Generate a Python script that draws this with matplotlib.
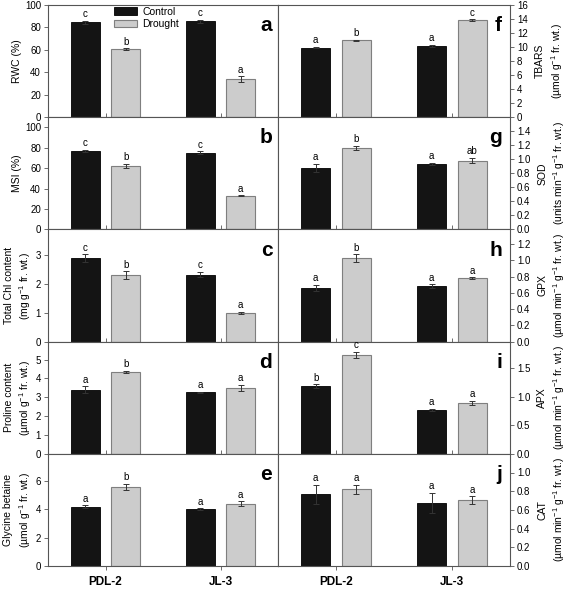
import numpy as np
import matplotlib
matplotlib.use("Agg")
import matplotlib.pyplot as plt

plt.rcParams["font.family"] = ["Liberation Sans", "DejaVu Sans"]
plt.rcParams["mathtext.fontset"] = "custom"
plt.rcParams["mathtext.rm"] = "Liberation Sans"

# ── data ─────────────────────────────────────────────────────────────────────
genotypes = ["PDL-2", "JL-3"]
series = ["Control", "Drought"]

# left column (a-e)
rwc_ctrl, rwc_dr = [84.5, 85.5], [60.5, 34.0]
rwc_ctrl_err, rwc_dr_err = [1.2, 1.2], [1.0, 2.5]
rwc_let = ["c", "b", "c", "a"]

msi_ctrl, msi_dr = [77.0, 75.0], [62.0, 33.0]
msi_ctrl_err, msi_dr_err = [1.0, 1.5], [2.0, 0.5]
msi_let = ["c", "b", "c", "a"]

chl_ctrl, chl_dr = [2.9, 2.33], [2.31, 1.0]
chl_ctrl_err, chl_dr_err = [0.13, 0.09], [0.13, 0.03]
chl_let = ["c", "b", "c", "a"]

pro_ctrl, pro_dr = [3.4, 3.26], [4.33, 3.5]
pro_ctrl_err, pro_dr_err = [0.17, 0.03], [0.07, 0.17]
pro_let = ["a", "b", "a", "a"]

gb_ctrl, gb_dr = [4.18, 4.02], [5.58, 4.4]
gb_ctrl_err, gb_dr_err = [0.1, 0.05], [0.2, 0.15]
gb_let = ["a", "b", "a", "a"]

# right column (f-j)
tb_ctrl, tb_dr = [9.9, 10.15], [10.95, 13.85]
tb_ctrl_err, tb_dr_err = [0.1, 0.2], [0.1, 0.1]
tb_let = ["a", "b", "a", "c"]

sod_ctrl, sod_dr = [0.87, 0.925], [1.155, 0.975]
sod_ctrl_err, sod_dr_err = [0.06, 0.015], [0.03, 0.04]
sod_let = ["a", "b", "a", "ab"]

gpx_ctrl, gpx_dr = [0.66, 0.68], [1.025, 0.78]
gpx_ctrl_err, gpx_dr_err = [0.04, 0.025], [0.05, 0.01]
gpx_let = ["a", "b", "a", "a"]

apx_ctrl, apx_dr = [1.19, 0.765], [1.74, 0.89]
apx_ctrl_err, apx_dr_err = [0.03, 0.02], [0.05, 0.04]
apx_let = ["b", "c", "a", "a"]

cat_ctrl, cat_dr = [0.765, 0.675], [0.82, 0.705]
cat_ctrl_err, cat_dr_err = [0.1, 0.11], [0.05, 0.04]
cat_let = ["a", "a", "a", "a"]

left_panels = [
    ("a", "RWC (%)", (0, 100), np.arange(0, 101, 20), "{:.0f}",
     rwc_ctrl, rwc_dr, rwc_ctrl_err, rwc_dr_err, rwc_let),
    ("b", "MSI (%)", (0, 110), np.arange(0, 101, 20), "{:.0f}",
     msi_ctrl, msi_dr, msi_ctrl_err, msi_dr_err, msi_let),
    ("c", "Total Chl content\n(mg g$^{-1}$ fr. wt.)", (0, 3.9), np.arange(0, 4), "{:.0f}",
     chl_ctrl, chl_dr, chl_ctrl_err, chl_dr_err, chl_let),
    ("d", "Proline content\n(\u00b5mol g$^{-1}$ fr. wt.)", (0, 5.95), np.arange(0, 6), "{:.0f}",
     pro_ctrl, pro_dr, pro_ctrl_err, pro_dr_err, pro_let),
    ("e", "Glycine betaine\n(\u00b5mol g$^{-1}$ fr. wt.)", (0, 7.9), np.arange(0, 7, 2), "{:.0f}",
     gb_ctrl, gb_dr, gb_ctrl_err, gb_dr_err, gb_let),
]
right_panels = [
    ("f", "TBARS\n(\u00b5mol g$^{-1}$ fr. wt.)", (0, 16), np.arange(0, 17, 2), "{:.0f}",
     tb_ctrl, tb_dr, tb_ctrl_err, tb_dr_err, tb_let),
    ("g", "SOD\n(units min$^{-1}$ g$^{-1}$ fr. wt.)", (0, 1.59), np.arange(0, 1.41, 0.2), "{:.1f}",
     sod_ctrl, sod_dr, sod_ctrl_err, sod_dr_err, sod_let),
    ("h", "GPX\n(\u00b5mol min$^{-1}$ g$^{-1}$ fr. wt.)", (0, 1.38), np.arange(0, 1.21, 0.2), "{:.1f}",
     gpx_ctrl, gpx_dr, gpx_ctrl_err, gpx_dr_err, gpx_let),
    ("i", "APX\n(\u00b5mol min$^{-1}$ g$^{-1}$ fr. wt.)", (0, 1.97), np.arange(0, 1.6, 0.5), "{:.1f}",
     apx_ctrl, apx_dr, apx_ctrl_err, apx_dr_err, apx_let),
    ("j", "CAT\n(\u00b5mol min$^{-1}$ g$^{-1}$ fr. wt.)", (0, 1.2), np.arange(0, 1.01, 0.2), "{:.1f}",
     cat_ctrl, cat_dr, cat_ctrl_err, cat_dr_err, cat_let),
]

# ── layout ───────────────────────────────────────────────────────────────────
W, H = 567, 589
fig = plt.figure(figsize=(W / 100, H / 100), dpi=100)

row_top, row_h = 5, 112.2
col_x = [(48, 230), (278, 232)]

C_CTRL = "#141414"
C_DR = "#cccccc"
EDGE_DR = "#7f7f7f"
SPINE = "#555555"

x = np.array([0.5, 1.5])
off, bw = 0.175, 0.25


def draw_panel(ax, panel, side, bottom):
    letter, ylabel, ylim, yticks, fmt, c, d, ce, de, lets = panel
    b1 = ax.bar(x - off, c, bw, color=C_CTRL, edgecolor="#000000", linewidth=0.6,
                label=series[0], zorder=2)
    b2 = ax.bar(x + off, d, bw, color=C_DR, edgecolor=EDGE_DR, linewidth=0.8,
                label=series[1], zorder=2)
    ax.errorbar(x - off, c, yerr=ce, fmt="none", ecolor="#333333", elinewidth=0.7,
                capsize=2.2, capthick=0.7, zorder=3)
    ax.errorbar(x + off, d, yerr=de, fmt="none", ecolor="#333333", elinewidth=0.7,
                capsize=2.2, capthick=0.7, zorder=3)
    span = ylim[1] - ylim[0]
    tops = [c[0] + ce[0], d[0] + de[0], c[1] + ce[1], d[1] + de[1]]
    xs = [x[0] - off, x[0] + off, x[1] - off, x[1] + off]
    for xi, t, l in zip(xs, tops, lets):
        ax.text(xi, t + span * 0.015, l, ha="center", va="bottom", fontsize=7)

    ax.set_xlim(0, 2)
    ax.set_ylim(*ylim)
    ax.set_yticks(yticks)
    ax.set_yticklabels([fmt.format(v) for v in yticks])
    ax.set_xticks(x)
    if bottom:
        ax.set_xticklabels(genotypes, fontsize=8.5, fontweight="bold")
        ax.tick_params(axis="x", direction="out", length=3, width=0.6, color=SPINE, pad=4.5)
    else:
        ax.set_xticklabels([])
        ax.tick_params(axis="x", direction="in", length=3, width=0.6, color=SPINE)
    ax.tick_params(axis="y", direction="out", length=3, width=0.6, color=SPINE,
                   labelsize=7, pad=2)
    for s in ax.spines.values():
        s.set_color(SPINE)
        s.set_linewidth(0.8)
    if side == "right":
        ax.yaxis.tick_right()
        ax.yaxis.set_label_position("right")
        ax.set_ylabel(ylabel, fontsize=7.5, rotation=90, labelpad=5, linespacing=1.35)
        ax.text(0.965, 0.9, letter, transform=ax.transAxes, ha="right", va="top",
                fontsize=15, fontweight="bold")
    else:
        ax.set_ylabel(ylabel, fontsize=7.5, labelpad=2, linespacing=1.3)
        ax.text(0.975, 0.9, letter, transform=ax.transAxes, ha="right", va="top",
                fontsize=15, fontweight="bold")
    return b1, b2


for ci, (panels, side) in enumerate([(left_panels, "left"), (right_panels, "right")]):
    x0, w = col_x[ci]
    for ri, panel in enumerate(panels):
        top = row_top + ri * row_h
        ax = fig.add_axes([x0 / W, 1 - (top + row_h) / H, w / W, row_h / H])
        b1, b2 = draw_panel(ax, panel, side, ri == len(panels) - 1)
        if ci == 0 and ri == 0:
            ax.legend(handles=[b1, b2], loc="upper center", bbox_to_anchor=(0.43, 1.04),
                      frameon=False, fontsize=7.5, handlelength=2.2, handleheight=0.7,
                      handletextpad=0.5, labelspacing=0.2, borderaxespad=0.2)

fig.savefig("out.png", dpi=100)
